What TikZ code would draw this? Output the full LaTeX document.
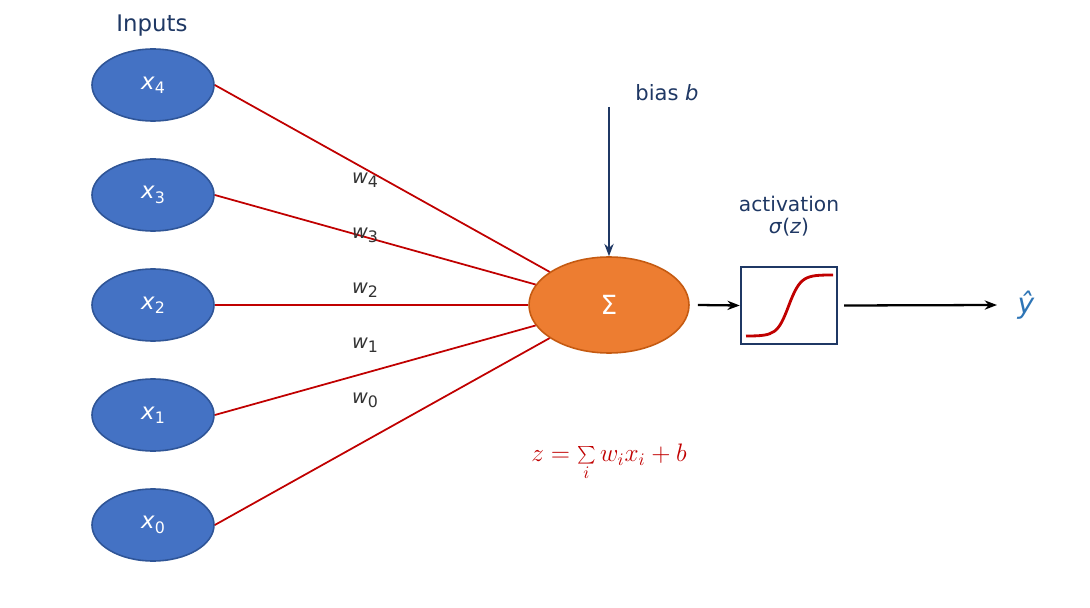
\documentclass[tikz,border=0pt]{standalone}
\usepackage{fontspec}
\setmainfont{DejaVu Sans}
\usetikzlibrary{shapes.geometric,arrows.meta}
\definecolor{inp}{HTML}{4472C4}
\definecolor{inpb}{HTML}{2F5597}
\definecolor{sumc}{HTML}{ED7D31}
\definecolor{sumb}{HTML}{C55A11}
\definecolor{wred}{HTML}{C00000}
\definecolor{navy}{HTML}{1F3864}
\definecolor{yb}{HTML}{2E75B6}
\newcommand{\vsub}[2]{\textit{#1}\raisebox{-0.35ex}{\fontsize{9}{9}\selectfont #2}}
\tikzset{
 inp/.style={ellipse,draw=inpb,fill=inp,line width=0.9pt,minimum width=122\pxu,minimum height=72\pxu,text=white,font=\fontsize{13}{13}\selectfont},
 wl/.style={red!0!black!80,font=\fontsize{11}{11}\selectfont},
 conn/.style={wred,line width=1pt},
}
\newlength{\pxu}\setlength{\pxu}{0.02cm}
\begin{document}
\begin{tikzpicture}[x=0.02cm,y=-0.02cm]
\useasboundingbox (0,0) rectangle (1090,608);
\node[navy,font=\fontsize{13}{13}\selectfont] (title) at (152,26) {Inputs};
\foreach \i/\y in {4/85,3/195,2/305,1/415,0/525}{
  \node[inp] (x\i) at (153,\y) {\vsub{x}{\i}};
}
\node[ellipse,draw=sumb,fill=sumc,line width=0.9pt,minimum width=160\pxu,minimum height=96\pxu,text=white,font=\fontsize{15}{15}\selectfont] (s) at (609,305) {Σ};
\foreach \i in {4,3,2,1,0}{
  \draw[conn] (x\i.east) -- (s);
}
\foreach \i/\y in {4/180,3/235,2/290,1/345,0/400}{
  \node[wl] (w\i) at (365,\y) {\vsub{w}{\i}};
}
\coordinate (bt) at (609,107);
\draw[navy,line width=1.3pt,-{Stealth[length=7pt]}] (bt) -- (s.north);
\node[navy,font=\fontsize{12}{12}\selectfont] (bl) at (667,93) {bias \textit{b}};
\node[draw=navy,line width=1.4pt,minimum width=96\pxu,minimum height=77\pxu] (box) at (789,305.5) {};
\draw[wred,line width=1.6pt] (746,336) .. controls (775,336) and (778,334) .. (789,305) .. controls (800,276) and (805,275) .. (833,275);
\node[navy,font=\fontsize{11.5}{11.5}\selectfont,align=center] (act) at (789,216) {activation\\[1pt]\textit{σ}(\textit{z})};
\draw[black,line width=1.3pt,-{Stealth[length=7pt]}] (s.east)++(8,0) -- (box.west);
\coordinate (yh) at (1026,305);
\node[yb,font=\fontsize{16}{16}\selectfont] (yl) at (yh) {\textit{ŷ}};
\draw[black,line width=1.3pt,-{Stealth[length=7pt]}] (box.east)++(6,0) -- (997,305);
\node[wred,font=\fontsize{14}{14}\selectfont] (f) at (609,462) {$z=\sum\limits_i w_ix_i+b$};
\end{tikzpicture}
\end{document}
